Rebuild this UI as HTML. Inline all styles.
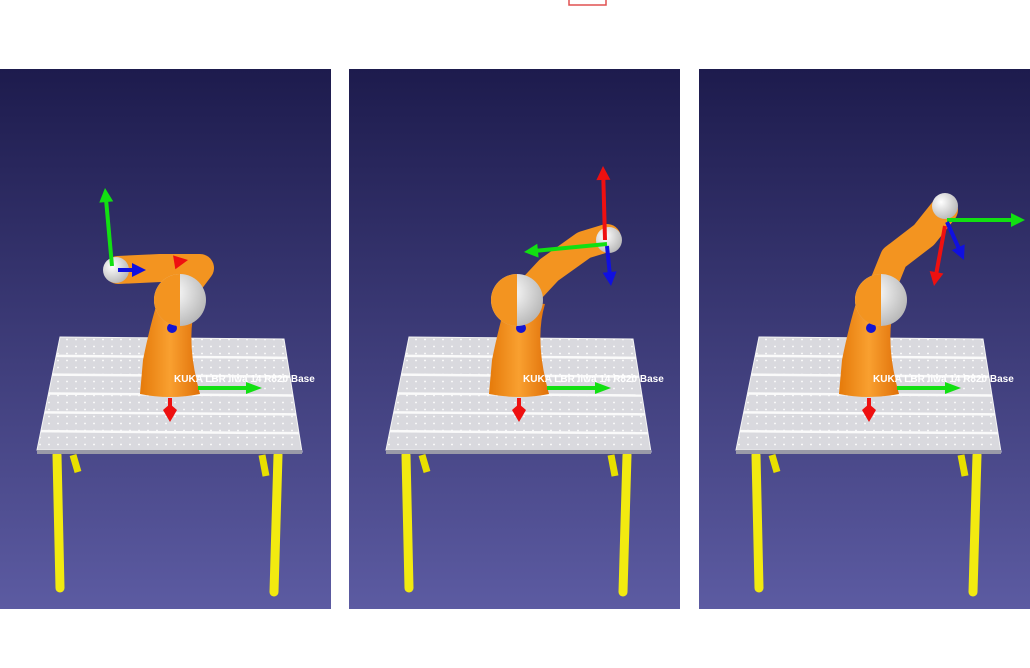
<!DOCTYPE html>
<html><head><meta charset="utf-8"><style>
html,body{margin:0;padding:0;background:#fff;width:1030px;height:668px;overflow:hidden}
svg{display:block;font-family:"Liberation Sans",sans-serif}
</style></head><body>
<svg id="s" width="1030" height="668" viewBox="0 0 1030 668">
<defs>
<linearGradient id="bg" x1="0" y1="0" x2="0" y2="1"><stop offset="0" stop-color="#1d1b4d"/><stop offset="1" stop-color="#5c5ba2"/></linearGradient>
<linearGradient id="or" x1="0" y1="0" x2="1" y2="0"><stop offset="0" stop-color="#e57a0a"/><stop offset="0.5" stop-color="#f9a030"/><stop offset="1" stop-color="#e07008"/></linearGradient>
<radialGradient id="wh" cx="0.35" cy="0.35" r="0.7"><stop offset="0" stop-color="#ffffff"/><stop offset="1" stop-color="#b8b8b8"/></radialGradient>
<pattern id="dots" width="9" height="7" patternUnits="userSpaceOnUse"><rect width="9" height="7" fill="#d9d9de"/><circle cx="4" cy="3.5" r="0.9" fill="#ffffff"/></pattern>
</defs>
<rect x="569" y="-2" width="37" height="7" fill="none" stroke="#e05050" stroke-width="1.5"/>
<g id="panels"></g>
</svg>
<script>
const offsets=[0,349,699];
const NS="http://www.w3.org/2000/svg";
function el(tag,attrs,parent){const e=document.createElementNS(NS,tag);for(const k in attrs)e.setAttribute(k,attrs[k]);parent.appendChild(e);return e;}
const poses=[
 {arm:[[176,300],[200,268],[160,268],[118,270]],wrist:[116,270],elbow:[180,300],eg:[[112,266],[105,188]],er:[[176,262],[188,260]],eb:[[118,270],[146,270]]},
 {arm:[[172,300],[200,270],[235,245],[258,238]],wrist:[260,240],elbow:[168,300],eg:[[258,244],[175,252]],er:[[256,240],[254,166]],eb:[[258,246],[262,286]]},
 {arm:[[178,300],[195,258],[225,235],[245,210]],wrist:[246,206],elbow:[182,300],eg:[[248,220],[326,220]],er:[[246,226],[235,286]],eb:[[248,222],[265,260]]}
];
const g=document.getElementById('panels');
offsets.forEach((dx,i)=>{
 const p=el('g',{transform:`translate(${dx},0)`},g);
 
 
 el('rect',{x:0,y:69,width:331,height:540,fill:'url(#bg)'},p);
 [[73,455,78,472],[262,455,266,476]].forEach(l=>el('line',{x1:l[0],y1:l[1],x2:l[2],y2:l[3],stroke:'#e8e000','stroke-width':7},p));
 [[57,455,60,588],[278,455,274,592]].forEach(l=>el('line',{x1:l[0],y1:l[1],x2:l[2],y2:l[3],stroke:'#f2ea10','stroke-width':9,'stroke-linecap':'round'},p));
 const tb=el('polygon',{points:'60,337 284,339 302,452 37,450',fill:'url(#dots)',stroke:'#f4f4f4','stroke-width':1},p);
 
 
 for(let k=1;k<6;k++){const t=k/6;const y=337+t*113;el('line',{x1:60-23*t,y1:y,x2:284+18*t,y2:y+2,stroke:'#fafafa','stroke-width':2.5},p);}
 el('rect',{x:37,y:450,width:265,height:4,fill:'#9a9aa8'},p);
 el('path',{d:'M140,394 L143,360 Q150,325 158,300 L196,304 Q185,340 200,394 Q170,400 140,394 Z',fill:'url(#or)'},p);
 el('circle',{cx:172,cy:328,r:5,fill:'#1515d0'},p);
 const P=poses[i];
 el('polyline',{points:P.arm.map(a=>a.join(',')).join(' '),fill:'none',stroke:'#f39420','stroke-width':28,'stroke-linecap':'round','stroke-linejoin':'round'},p);
 el('circle',{cx:P.elbow[0],cy:P.elbow[1],r:26,fill:'url(#wh)'},p);
 el('path',{d:`M${P.elbow[0]},${P.elbow[1]-26} A26,26 0 0 0 ${P.elbow[0]},${P.elbow[1]+26} Z`,fill:'#f39420'},p);
 el('circle',{cx:P.wrist[0],cy:P.wrist[1],r:13,fill:'url(#wh)'},p);
 [['eg','#12e012'],['er','#ee1010'],['eb','#1010e0']].forEach(([k,c])=>{
  const [a,b]=P[k];const ang=Math.atan2(b[1]-a[1],b[0]-a[0]);
  el('line',{x1:a[0],y1:a[1],x2:b[0]-Math.cos(ang)*10,y2:b[1]-Math.sin(ang)*10,stroke:c,'stroke-width':4},p);
  const h=[[b[0],b[1]],[b[0]-Math.cos(ang)*14+Math.sin(ang)*7,b[1]-Math.sin(ang)*14-Math.cos(ang)*7],[b[0]-Math.cos(ang)*14-Math.sin(ang)*7,b[1]-Math.sin(ang)*14+Math.cos(ang)*7]];
  el('polygon',{points:h.map(q=>q.join(',')).join(' '),fill:c},p);
 });
 el('line',{x1:198,y1:388,x2:248,y2:388,stroke:'#12e012','stroke-width':4},p);
 el('polygon',{points:'262,388 246,382 246,394',fill:'#12e012'},p);
 el('line',{x1:170,y1:398,x2:170,y2:408,stroke:'#ee1010','stroke-width':4},p);
 el('polygon',{points:'170,422 163,410 170,404 177,410',fill:'#ee1010'},p);
 const t=el('text',{x:174,y:382,fill:'#ffffff','font-size':10,'font-weight':'bold'},p);
 t.textContent='KUKA LBR iiwa 14 R820 Base';
 
 
});
</script>
</body></html>
